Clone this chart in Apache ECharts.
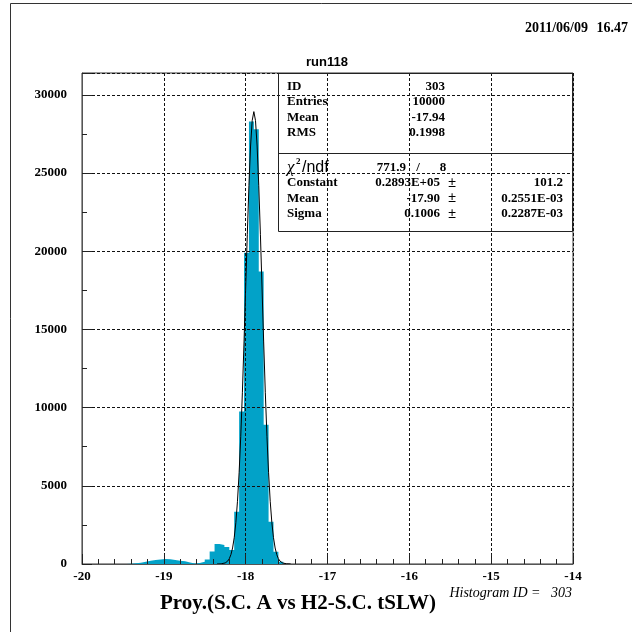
<!DOCTYPE html>
<html><head><meta charset="utf-8">
<script src="https://cdn.jsdelivr.net/npm/echarts@6/dist/echarts.min.js"></script>
<style>html,body{margin:0;padding:0;background:#fff}#c{width:632px;height:632px}</style>
</head><body><div id="c"></div>
<script>
// ---- data ----
const binStart = -20;
const binWidth = 0.06;
const binCounts = [
  0,0,0,0,0,0,0,0,0,15,
  40,80,150,200,250,290,320,300,260,200,
  170,100,30,60,150,280,800,1280,1220,1080,
  900,3340,9750,19900,28300,27800,18700,8900,2700,790,
  150,0,0,0,0,0,0,0,0,0,
  0,0,0,0,0,0,0,0,0,0,
  0,0,0,0,0,0,0,0,0,0,
  0,0,0,0,0,0,0,0,0,0,
  0,0,0,0,0,0,0,0,0,0,
  0,0,0,0,0,0,0,0,0,0
];
// fit curve (x, y)
const fitX = [-18.35,-18.30,-18.25,-18.22,-18.20,-18.18,-18.16,-18.14,-18.12,-18.10,-18.08,-18.06,-18.04,-18.02,-18.00,
  -17.98,-17.96,-17.94,-17.92,-17.90,-17.88,-17.86,-17.84,-17.82,-17.80,-17.78,-17.76,-17.74,-17.72,-17.70,
  -17.68,-17.66,-17.64,-17.62,-17.60,-17.58,-17.55,-17.50,-17.45];
const fitY = [1,11,68,184,339,602,1025,1681,2647,4010,5835,8167,10985,14200,17650,
  21087,24215,26730,28364,28930,28364,26730,24215,21087,17650,14200,10985,8167,5835,4010,
  2647,1681,1025,602,339,184,68,11,1];

const xTickLabels = [-20,-19,-18,-17,-16,-15,-14];
const yTickLabels = [0,5000,10000,15000,20000,25000,30000];
const yMax = 31400;

const titleText = 'run118';
const dateText = '2011/06/09';
const timeText = '16.47';
const xTitle = 'Proy.(S.C. A vs H2-S.C. tSLW)';
const histIdText = 'Histogram ID =   303';

const statTopLabels = ['ID','Entries','Mean','RMS'];
const statTopValues = ['303','10000','-17.94','0.1998'];
const chi2Value = '771.9';
const ndfValue = '8';
const fitParNames = ['Constant','Mean','Sigma'];
const fitParValues = ['0.2893E+05','-17.90','0.1006'];
const fitParErrors = ['101.2','0.2551E-03','0.2287E-03'];
</script>
<script>
const chart = echarts.init(document.getElementById('c'), null, {renderer: 'canvas'});
const SERIF = '"Liberation Serif", "DejaVu Serif", serif';
const SANS = '"Liberation Sans", "DejaVu Sans", sans-serif';
const BLUE = '#02a2c8';

const histData = binCounts.map((c, i) => [binStart + i * binWidth, c]);
histData.push([binStart + binCounts.length * binWidth, binCounts[binCounts.length - 1]]);
const fitData = fitX.map((x, i) => [x, fitY[i]]);

const gl = 82, gt = 73, gr = 573, gb = 564;

function txt(x, y, text, font, align, extra) {
  return {
    type: 'text', x: x, y: y, z: 20,
    style: Object.assign({
      text: text, font: font, fill: '#000',
      align: align || 'left', textAlign: align || 'left',
      verticalAlign: 'middle', textVerticalAlign: 'middle'
    }, extra || {})
  };
}
function hline(x1, x2, y) {
  return {type: 'line', z: 20, shape: {x1: x1, y1: y, x2: x2, y2: y}, style: {stroke: '#222', lineWidth: 1}};
}

const rowsTop = [86.5, 102, 117.5, 133];
const rowsFit = [183, 198.5, 214];
const BF = 'bold 13px ' + SERIF;

const graphics = [
  {type: 'rect', z: 20, shape: {x: 10.5, y: 3.5, width: 700, height: 700}, style: {fill: 'none', stroke: '#333', lineWidth: 1}},
  txt(588, 28, dateText, 'bold 14px ' + SERIF, 'right'),
  txt(628, 28, timeText, 'bold 14px ' + SERIF, 'right'),
  txt(327, 62, titleText, 'bold 13px ' + SANS, 'center'),
  {type: 'rect', z: 20, shape: {x: 278.5, y: 73.5, width: 294, height: 158}, style: {fill: 'none', stroke: '#222', lineWidth: 1}},
  hline(278.5, 572.5, 153.5),
  txt(287, 168, 'χ', 'italic 17px ' + SERIF, 'left'),
  txt(296, 162, '2', 'bold 9px ' + SERIF, 'left'),
  txt(302, 168, '/ndf', '16px ' + SANS, 'left'),
  txt(406, 168, chi2Value, BF, 'right'),
  txt(418, 168, '/', BF, 'center'),
  txt(443, 168, ndfValue, BF, 'center'),
  txt(298, 604, xTitle, 'bold 21px ' + SERIF, 'center'),
  txt(572, 593, histIdText, 'italic 14px ' + SERIF, 'right')
];
statTopLabels.forEach((l, i) => {
  graphics.push(txt(287, rowsTop[i], l, BF, 'left'));
  graphics.push(txt(445, rowsTop[i], statTopValues[i], BF, 'right'));
});
fitParNames.forEach((l, i) => {
  graphics.push(txt(287, rowsFit[i], l, BF, 'left'));
  graphics.push(txt(440, rowsFit[i], fitParValues[i], BF, 'right'));
  graphics.push(txt(452, rowsFit[i], '±', '14px ' + SANS, 'center'));
  graphics.push(txt(563, rowsFit[i], fitParErrors[i], BF, 'right'));
});

const option = {
  animation: false,
  backgroundColor: '#fff',
  grid: {left: gl, top: gt, right: 632 - gr, bottom: 632 - gb, show: true, borderColor: '#333', borderWidth: 1, backgroundColor: 'transparent'},
  xAxis: {
    type: 'value', min: xTickLabels[0], max: xTickLabels[xTickLabels.length - 1], interval: 1, z: 5,
    axisLine: {show: true, onZero: false, lineStyle: {color: '#555', width: 1}},
    axisTick: {show: true, inside: true, length: 10, lineStyle: {color: '#222'}},
    minorTick: {show: true, splitNumber: 5, length: 5, lineStyle: {color: '#222'}},
    axisLabel: {fontFamily: SERIF, fontWeight: 'bold', fontSize: 13, color: '#000', margin: 6},
    splitLine: {show: true, lineStyle: {color: '#111', type: [3, 2], width: 1}}
  },
  yAxis: {
    type: 'value', min: 0, max: yMax, interval: 5000, z: 5,
    axisLine: {show: true, lineStyle: {color: '#555', width: 1}},
    axisTick: {show: true, inside: true, length: 10, lineStyle: {color: '#222'}},
    minorTick: {show: true, splitNumber: 2, length: 5, lineStyle: {color: '#222'}},
    axisLabel: {fontFamily: SERIF, fontWeight: 'bold', fontSize: 13, color: '#000', margin: 15, showMaxLabel: false,
      formatter: v => (yTickLabels.indexOf(v) >= 0 ? String(v) : '')},
    splitLine: {show: true, lineStyle: {color: '#111', type: [3, 2], width: 1}}
  },
  series: [
    {
      type: 'line', step: 'end', data: histData, symbol: 'none', z: 2,
      lineStyle: {width: 0, opacity: 0},
      areaStyle: {color: BLUE, opacity: 1}
    },
    {
      type: 'line', data: fitData, symbol: 'none', z: 3,
      lineStyle: {color: '#000', width: 1}
    }
  ],
  graphic: graphics
};
chart.setOption(option);
</script>
</body></html>
